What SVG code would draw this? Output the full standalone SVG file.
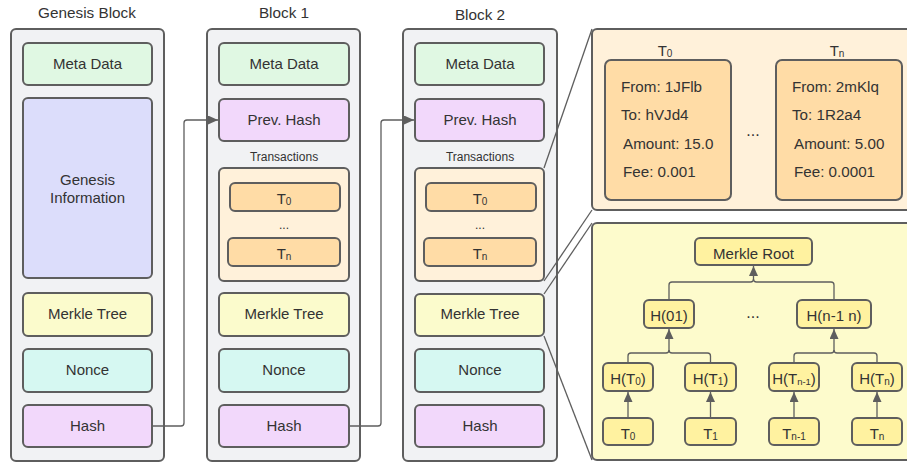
<svg xmlns="http://www.w3.org/2000/svg" width="907" height="463" viewBox="0 0 907 463">
<defs>
<style>
text{font-family:"Liberation Sans",Arial,sans-serif;fill:#333;text-anchor:middle;dominant-baseline:central}
.title{font-size:15.3px}
.lbl{font-size:15px}
.sm{font-size:12px}
.dots{font-size:16px}
.det{font-size:15.2px;text-anchor:start}
.blk{fill:#f1f2f4;stroke:#5e5e5e;stroke-width:2}
.box{stroke:#5e5e5e;stroke-width:2}
.meta{fill:#e0f8e3}
.gen{fill:#dcddfb}
.mt{fill:#fbfbcc}
.non{fill:#d6f8f2}
.hash{fill:#f2d8fb}
.tx{fill:#fff1da}
.t{fill:#ffdca6}
.mp{fill:#fdfbcc}
.mn{fill:#fff2a0}
.ln{fill:none;stroke:#5e5e5e;stroke-width:1.3}
</style>
<marker id="ar" viewBox="0 0 10 10" refX="10" refY="5" markerWidth="10" markerHeight="9" markerUnits="userSpaceOnUse" orient="auto" preserveAspectRatio="none">
<path d="M0,0 L10,5 L0,10 z" fill="#5e5e5e"/>
</marker>
</defs>

<g id="titles">
<text class="title" x="87" y="12">Genesis Block</text>
<text class="title" x="284" y="12">Block 1</text>
<text class="title" x="480" y="14">Block 2</text>
</g>

<g id="genesis">
<rect class="blk" x="11" y="29" width="153" height="432" rx="5"/>
<rect class="box meta" x="23" y="43" width="129" height="42" rx="5"/>
<text class="lbl" x="87.5" y="63">Meta Data</text>
<rect class="box gen" x="23" y="98" width="129" height="180" rx="5"/>
<text class="lbl" x="87.5" y="179">Genesis</text>
<text class="lbl" x="87.5" y="197">Information</text>
<rect class="box mt" x="23" y="293" width="129" height="43" rx="5"/>
<text class="lbl" x="87.5" y="313">Merkle Tree</text>
<rect class="box non" x="23" y="349" width="129" height="43" rx="5"/>
<text class="lbl" x="87.5" y="369">Nonce</text>
<rect class="box hash" x="23" y="405" width="129" height="42" rx="5"/>
<text class="lbl" x="87.5" y="425">Hash</text>
</g>

<g id="block1">
<rect class="blk" x="207" y="29" width="153" height="432" rx="5"/>
<rect class="box meta" x="219" y="43" width="130" height="42" rx="5"/>
<text class="lbl" x="284" y="63">Meta Data</text>
<rect class="box hash" x="219" y="99" width="130" height="42" rx="5"/>
<text class="lbl" x="284" y="119">Prev. Hash</text>
<text class="sm" x="284" y="157">Transactions</text>
<rect class="box tx" x="219" y="168" width="130" height="113" rx="5"/>
<rect class="box t" x="230" y="183" width="110" height="28" rx="5"/>
<text class="lbl" x="284" y="198">T<tspan font-size="10" dy="3">0</tspan></text>
<text class="sm" x="284" y="225">...</text>
<rect class="box t" x="228" y="238" width="112" height="28" rx="5"/>
<text class="lbl" x="284" y="253">T<tspan font-size="10" dy="3">n</tspan></text>
<rect class="box mt" x="219" y="293" width="130" height="43" rx="5"/>
<text class="lbl" x="284" y="313">Merkle Tree</text>
<rect class="box non" x="219" y="349" width="130" height="43" rx="5"/>
<text class="lbl" x="284" y="369">Nonce</text>
<rect class="box hash" x="219" y="405" width="130" height="42" rx="5"/>
<text class="lbl" x="284" y="425">Hash</text>
</g>

<g id="block2">
<rect class="blk" x="403" y="29" width="154" height="432" rx="5"/>
<rect class="box meta" x="415" y="43" width="129" height="42" rx="5"/>
<text class="lbl" x="480" y="63">Meta Data</text>
<rect class="box hash" x="415" y="99" width="129" height="42" rx="5"/>
<text class="lbl" x="480" y="119">Prev. Hash</text>
<text class="sm" x="480" y="157">Transactions</text>
<rect class="box tx" x="415" y="168" width="129" height="113" rx="5"/>
<rect class="box t" x="426" y="183" width="110" height="28" rx="5"/>
<text class="lbl" x="480" y="198">T<tspan font-size="10" dy="3">0</tspan></text>
<text class="sm" x="480" y="225">...</text>
<rect class="box t" x="424" y="238" width="112" height="28" rx="5"/>
<text class="lbl" x="480" y="253">T<tspan font-size="10" dy="3">n</tspan></text>
<rect class="box mt" x="415" y="294" width="129" height="42" rx="5"/>
<text class="lbl" x="480" y="313">Merkle Tree</text>
<rect class="box non" x="415" y="349" width="129" height="43" rx="5"/>
<text class="lbl" x="480" y="369">Nonce</text>
<rect class="box hash" x="415" y="405" width="129" height="42" rx="5"/>
<text class="lbl" x="480" y="425">Hash</text>
</g>

<g id="tx-panel">
<rect class="box tx" x="592" y="29" width="330" height="181" rx="5"/>
<text class="lbl" x="665" y="50">T<tspan font-size="10" dy="3">0</tspan></text>
<text class="lbl" x="837" y="50">T<tspan font-size="10" dy="3">n</tspan></text>
<rect class="box t" x="605" y="60" width="126" height="140" rx="6"/>
<text class="det" x="621" y="86">From: 1JFlb</text>
<text class="det" x="621" y="114">To: hVJd4</text>
<text class="det" x="623" y="143">Amount: 15.0</text>
<text class="det" x="623" y="171">Fee: 0.001</text>
<text class="dots" x="753" y="130">...</text>
<rect class="box t" x="776" y="60" width="126" height="140" rx="6"/>
<text class="det" x="792" y="86">From: 2mKlq</text>
<text class="det" x="792" y="114">To: 1R2a4</text>
<text class="det" x="794" y="143">Amount: 5.00</text>
<text class="det" x="794" y="171">Fee: 0.0001</text>
</g>

<g id="merkle-panel">
<rect class="box mp" x="592" y="223" width="330" height="237" rx="5"/>
<g id="merkle-root"><rect class="box mn" x="695" y="238" width="117" height="27" rx="5"/><text class="lbl" x="753.5" y="253">Merkle Root</text></g>
<g id="h01"><rect class="box mn" x="644" y="300" width="50" height="28" rx="5"/><text class="lbl" x="669" y="315">H(01)</text></g>
<text class="dots" x="753" y="312">...</text>
<g id="hn1n"><rect class="box mn" x="797" y="300" width="74" height="28" rx="5"/><text class="lbl" x="834" y="315">H(n-1 n)</text></g>
<g id="ht0"><rect class="box mn" x="603" y="363" width="50" height="28" rx="5"/><text class="lbl" x="628" y="378">H(T<tspan font-size="10" dy="3">0</tspan><tspan dy="-3">)</tspan></text></g>
<g id="ht1"><rect class="box mn" x="685" y="363" width="51" height="28" rx="5"/><text class="lbl" x="710.5" y="378">H(T<tspan font-size="10" dy="3">1</tspan><tspan dy="-3">)</tspan></text></g>
<g id="htn1"><rect class="box mn" x="769" y="363" width="50" height="28" rx="5"/><text class="lbl" x="794" y="378" font-size="13.5">H(T<tspan font-size="9.5" dy="3">n-1</tspan><tspan dy="-3">)</tspan></text></g>
<g id="htn"><rect class="box mn" x="852" y="363" width="50" height="28" rx="5"/><text class="lbl" x="877" y="378">H(T<tspan font-size="10" dy="3">n</tspan><tspan dy="-3">)</tspan></text></g>
<g id="t0"><rect class="box mn" x="603" y="418" width="50" height="27" rx="5"/><text class="lbl" x="628" y="433">T<tspan font-size="10" dy="3">0</tspan></text></g>
<g id="t1"><rect class="box mn" x="685" y="418" width="51" height="27" rx="5"/><text class="lbl" x="710.5" y="433">T<tspan font-size="10" dy="3">1</tspan></text></g>
<g id="tn1"><rect class="box mn" x="769" y="418" width="50" height="27" rx="5"/><text class="lbl" x="794" y="433">T<tspan font-size="10" dy="3">n-1</tspan></text></g>
<g id="tn"><rect class="box mn" x="852" y="418" width="50" height="27" rx="5"/><text class="lbl" x="877" y="433">T<tspan font-size="10" dy="3">n</tspan></text></g>
</g>

<g id="connectors">
<path class="ln" d="M152,426 H181 Q184,426 184,423 V123 Q184,120 187,120 H218" marker-end="url(#ar)"/>
<path class="ln" d="M349,426 H378 Q381,426 381,423 V123 Q381,120 384,120 H414" marker-end="url(#ar)"/>
<path class="ln" d="M544,168 L592,29"/>
<path class="ln" d="M544,281 L592,210"/>
<path class="ln" d="M544,294 L592,223"/>
<path class="ln" d="M544,336 L592,460"/>
<path class="ln" d="M628,418 V392" marker-end="url(#ar)"/>
<path class="ln" d="M710.5,418 V392" marker-end="url(#ar)"/>
<path class="ln" d="M794,418 V392" marker-end="url(#ar)"/>
<path class="ln" d="M877,418 V392" marker-end="url(#ar)"/>
<path class="ln" d="M628,363 V356 Q628,353 631,353 H666 Q669,353 669,350 V329" marker-end="url(#ar)"/>
<path class="ln" d="M710.5,363 V356 Q710.5,353 707.5,353 H672 Q669,353 669,350"/>
<path class="ln" d="M794,363 V356 Q794,353 797,353 H831 Q834,353 834,350 V329" marker-end="url(#ar)"/>
<path class="ln" d="M877,363 V356 Q877,353 874,353 H837 Q834,353 834,350"/>
<path class="ln" d="M669,300 V285 Q669,282 672,282 H750.5 Q753.5,282 753.5,279 V266" marker-end="url(#ar)"/>
<path class="ln" d="M834,300 V285 Q834,282 831,282 H756.5 Q753.5,282 753.5,279"/>
</g>
</svg>
